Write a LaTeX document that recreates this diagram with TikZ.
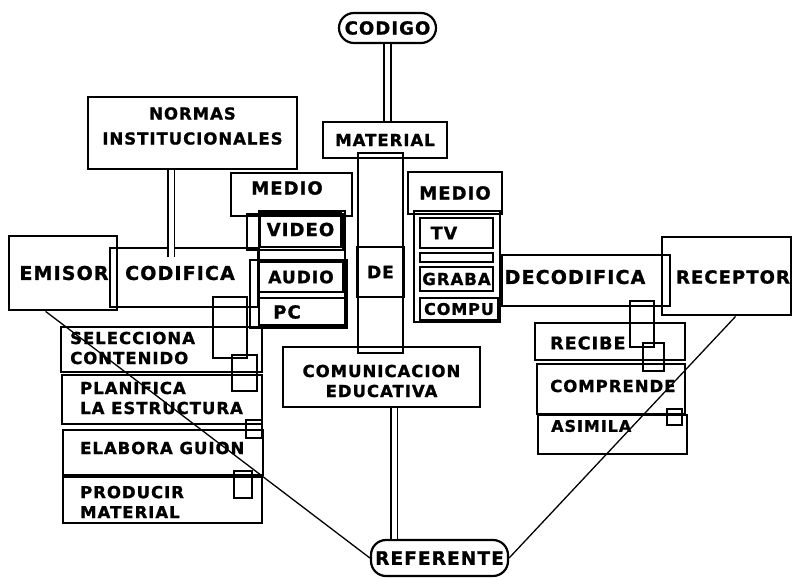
\documentclass[tikz,border=0pt]{standalone}
\usepackage{fontspec}
\newfontfamily\blockfont{DejaVu Sans}[LetterSpace=6, BoldFeatures={FakeBold=1.2}]
\usetikzlibrary{calc}
\tikzset{
  fs/.style={font=\blockfont\bfseries\fontsize{#1}{20}\selectfont},
  box/.style={draw, line width=2.2pt, inner sep=0pt},
  thinbox/.style={draw, line width=1.3pt, inner sep=0pt},
  pill/.style={draw, line width=2.2pt, rounded corners=15pt, inner sep=0pt},
  lbl/.style={inner sep=0pt},
  listlbl/.style={inner sep=0pt, anchor=west, align=left, fs=16.5},
  bar/.style={draw, line width=1.6pt, double=white, double distance=5pt},
  ray/.style={draw, line width=1.3pt},
  tab/.style={draw, line width=1.3pt}
}
\begin{document}
\begin{tikzpicture}[x=1pt,y=-1pt,fs=17.5]
\useasboundingbox[fill=white] (0,0) rectangle (794,578);

% top: code and material
\node[pill, fs=18, minimum width=97pt, minimum height=30pt] (codigo) at (387.5,28) {CODIGO};
\node[box, fs=16.5, minimum width=124pt, minimum height=36pt] (material) at (385,140) {MATERIAL};
\draw[bar] (codigo.south) -- (codigo.south |- material.north);

% institutional norms
\node[box, minimum width=209pt, minimum height=72pt] (normas) at (192.5,133) {};
\node[lbl, fs=16.5, align=center] (normas-t) at (192.5,126) {NORMAS\\[5pt]INSTITUCIONALES};

% sender and encoding
\node[box, line width=2.8pt, minimum width=108pt, minimum height=74pt] (emisor) at (63,273) {};
\node[box, minimum width=148pt, minimum height=59pt] (codifica) at (184,277.5) {};
\node[lbl, fs=19] (emisor-t) at (64,273) {EMISOR};
\node[lbl, fs=19] (codifica-t) at (180,273) {CODIFICA};
\draw[bar] ([xshift=-21.5pt]normas.south) -- ([xshift=-21.5pt,yshift=-10pt]normas.south |- codifica.north);

% left medium
\node[box, minimum width=121pt, minimum height=43pt] (medioL) at (291.5,194.5) {};
\node[lbl, fs=18] (medioL-t) at (287,188) {MEDIO};
\node[thinbox, minimum width=96pt, minimum height=36pt] (videoF) at (295,232) {};
\node[thinbox, minimum width=97pt, minimum height=68pt] (apF) at (298.5,294) {};
\node[box, minimum width=86pt, minimum height=115pt] (stackL) at (302,268.5) {};
\node[box, fs=18, minimum width=81pt, minimum height=35pt] (video) at (300.5,229.5) {VIDEO};
\node[box, fs=17, minimum width=84pt, minimum height=30pt] (audio) at (301,277) {AUDIO};
\node[box, minimum width=86pt, minimum height=27pt] (pc) at (302,311.5) {};
\node[lbl, fs=18] (pc-t) at (287,312) {PC};

% central column
\node[box, minimum width=45pt, minimum height=200pt] (de) at (380.5,253) {};
\node[box, fs=17, line width=2.8pt, minimum width=47pt, minimum height=50pt] (deB) at (380.5,272) {DE};

% right medium
\node[box, fs=18, minimum width=94pt, minimum height=42pt] (medioR) at (455,193) {MEDIO};
\node[box, minimum width=86pt, minimum height=111pt] (stackR) at (457,266.5) {};
\node[box, minimum width=73pt, minimum height=30pt] (tv) at (456.5,233) {};
\node[lbl, fs=17.5] (tv-t) at (444,233) {TV};
\node[thinbox, minimum width=73pt, minimum height=9pt] (band) at (456.5,257.5) {};
\node[box, fs=16.5, minimum width=73pt, minimum height=24pt] (graba) at (456.5,279) {GRABA};
\node[box, fs=16, minimum width=78pt, minimum height=22pt] (compu) at (459,309) {COMPU};

% decoding and receiver
\node[box, minimum width=168pt, minimum height=51pt] (decodifica) at (586,280.5) {};
\node[lbl, fs=19] (decodifica-t) at (575,277) {DECODIFICA};
\node[box, line width=2.8pt, minimum width=129pt, minimum height=78pt] (receptor) at (726.5,276) {};
\node[lbl, fs=18] (receptor-t) at (733,277) {RECEPTOR};

% educational communication and referent
\node[box, minimum width=197pt, minimum height=60pt] (comunic) at (381.5,377) {};
\node[lbl, fs=16.5, align=center] (comunic-t) at (381.5,381) {COMUNICACION\\EDUCATIVA};
\node[pill, fs=18.5, minimum width=137pt, minimum height=36pt] (referente) at (439.5,558) {REFERENTE};
\draw[bar] ([xshift=12.5pt]comunic.south) -- ([xshift=12.5pt]comunic.south |- referente.north);

% sender tasks
\node[box, line width=1.7pt, minimum width=201pt, minimum height=45pt] (selecc) at (161.5,349.5) {};
\node[listlbl] (selecc-t) at (70,348) {SELECCIONA\\CONTENIDO};
\node[box, line width=1.7pt, minimum width=200pt, minimum height=49pt] (planif) at (162,399.5) {};
\node[listlbl] (planif-t) at (80,398) {PLANIFICA\\LA ESTRUCTURA};
\node[box, line width=1.7pt, minimum width=200pt, minimum height=45pt] (elabora) at (163,452.5) {};
\node[listlbl] (elabora-t) at (80,448) {ELABORA GUION};
\node[box, line width=1.7pt, minimum width=199pt, minimum height=46pt] (producir) at (162.5,500) {};
\node[listlbl] (producir-t) at (80,502) {PRODUCIR\\MATERIAL};

% receiver tasks
\node[box, line width=1.7pt, minimum width=150pt, minimum height=37pt] (recibe) at (610,341.5) {};
\node[listlbl, fs=17.5] (recibe-t) at (550,343) {RECIBE};
\node[box, line width=1.7pt, minimum width=148pt, minimum height=50pt] (comprende) at (611,389) {};
\node[listlbl] (comprende-t) at (550,386) {COMPRENDE};
\node[box, line width=1.7pt, minimum width=149pt, minimum height=39pt] (asimila) at (612.5,434.5) {};
\node[listlbl, fs=16] (asimila-t) at (551,426) {ASIMILA};

% small tabs between task boxes
\draw[tab] (213,297) rectangle (247,358);
\draw[tab] (232,355) rectangle (257,391);
\draw[tab] (246,420) rectangle (262,438);
\draw[tab] (234,471) rectangle (252,498);
\draw[tab] (630,301) rectangle (654,347);
\draw[tab] (643,343) rectangle (664,371);
\draw[tab] (667,409) rectangle (682,425);

% rays to the referent
\draw[ray] ([xshift=38pt]emisor.south west) -- (referente.west);
\draw[ray] ([xshift=75pt]receptor.south west) -- (referente.east);
\end{tikzpicture}
\end{document}
